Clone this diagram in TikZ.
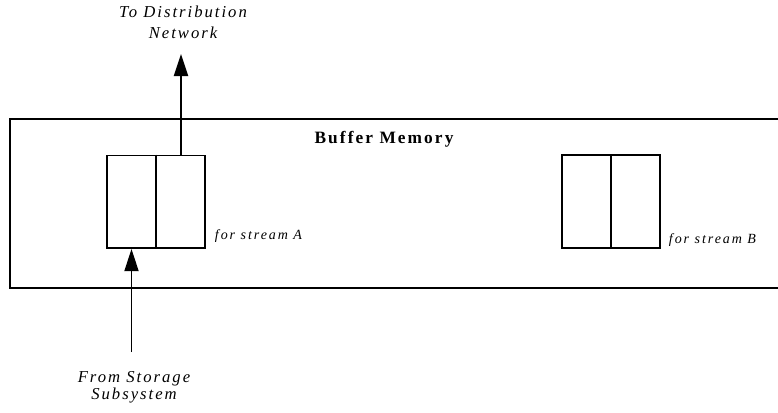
\documentclass[tikz,border=0pt]{standalone}
\usepackage{fontspec}
\setmainfont{Liberation Serif}
\newfontfamily\spacedserif[LetterSpace=12]{Liberation Serif}
\newfontfamily\spacedsmall[LetterSpace=14]{Liberation Serif}
\usetikzlibrary{arrows.meta}
\begin{document}
\begin{tikzpicture}[x=0.75pt,y=-0.75pt,
  line width=1.4pt,
  bufcell/.style={draw,rectangle,minimum width=73.5pt,minimum height=69.5pt,inner sep=0pt},
  flow/.style={-{Triangle[length=16.5pt,width=10.5pt]}},
  biglabel/.style={font=\spacedserif\itshape\fontsize{12.5pt}{15pt}\selectfont,align=center,inner sep=0pt},
  smalllabel/.style={font=\spacedsmall\itshape\fontsize{10.5pt}{12pt}\selectfont,inner sep=0pt,anchor=base west},
  titlelabel/.style={font=\spacedserif\bfseries\fontsize{13pt}{15pt}\selectfont,inner sep=0pt,anchor=base}]
\useasboundingbox (0,0) rectangle (778,412);
\clip (0,0) rectangle (778,412);
% buffer memory frame (runs past the right edge)
\draw (10,119) rectangle (800,288);
\node[titlelabel] (title) at (384,143) {Buffer Memory};
% the two double buffers
\node[bufcell] (bufA) at (156,201.8) {};
\draw (bufA.north) -- (bufA.south);
\node[bufcell] (bufB) at (611,201.5) {};
\draw (bufB.north) -- (bufB.south);
\node[smalllabel] (labA) at (214,239) {for stream A};
\node[smalllabel] (labB) at (668,243) {for stream B};
% data paths in and out of stream A's buffer
\coordinate (outA) at (181,54);
\coordinate (inA) at (131.5,352);
\draw[flow] (bufA.north -| outA) -- (outA);
\draw[flow] (inA) -- (inA |- bufA.south);
% multi-line labels are anchored at the baseline of their last line
\node[biglabel,anchor=base] (dest) at (183,38) {To Distribution\\[0.75pt]Network};
\node[biglabel,anchor=base] (src) at (134,399) {From Storage\\[-2.25pt]Subsystem};
\end{tikzpicture}
\end{document}
